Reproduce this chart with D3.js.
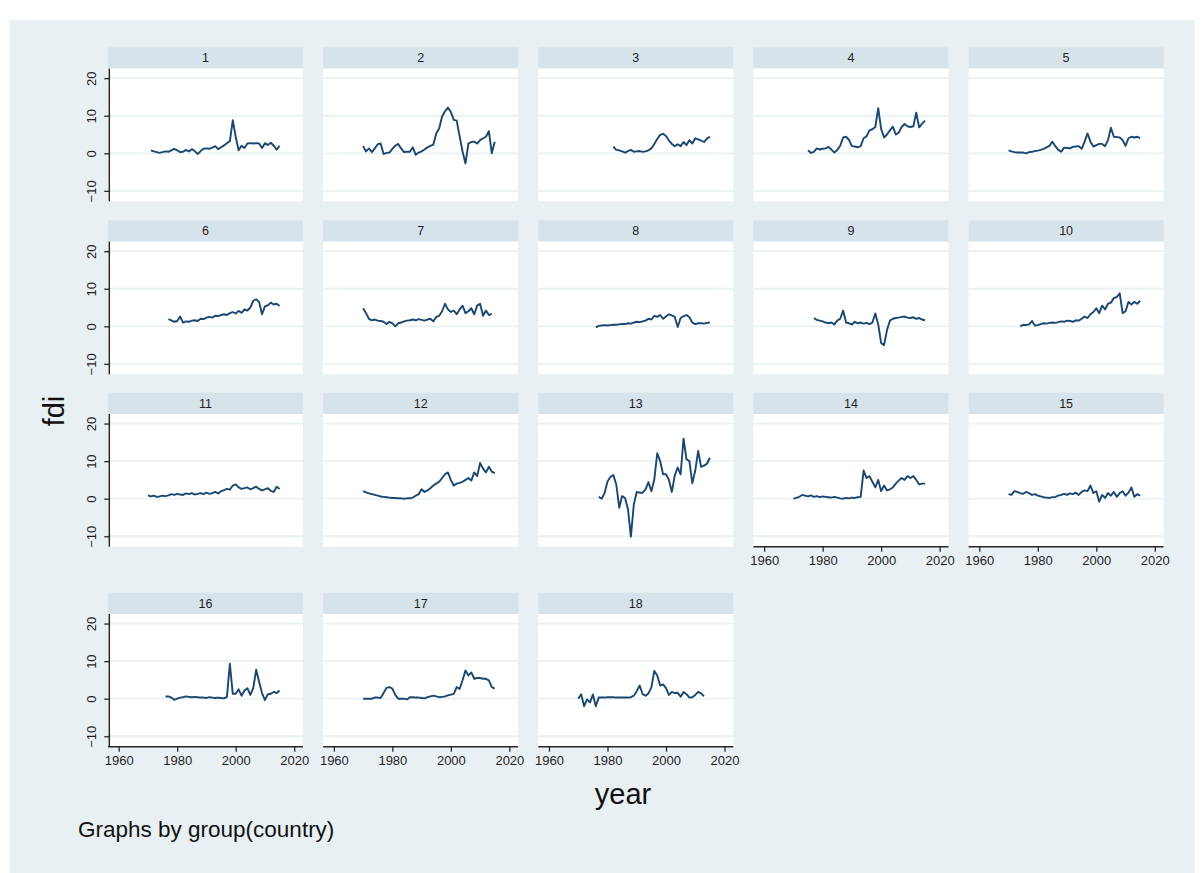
<!DOCTYPE html>
<html>
<head>
<meta charset="utf-8">
<script src="https://cdn.jsdelivr.net/npm/d3@7"></script>
<style>
  html, body { margin: 0; padding: 0; background: #ffffff; }
  svg { display: block; }
  text { font-family: "Liberation Sans", Arial, Helvetica, sans-serif; }
</style>
</head>
<body>
<svg id="chart" width="1203" height="873"></svg>
<script>
// FDI by country, one small panel per country (yearly values)
const countries = ["1","2","3","4","5","6","7","8","9","10","11","12","13","14","15","16","17","18"];
const startYears = [1971,1970,1982,1975,1970,1977,1970,1976,1977,1974,1970,1970,1977,1970,1970,1976,1970,1970];

const fdi1 = [0.8,0.5,0.3,0.1,0.3,0.5,0.4,0.8,1.2,0.8,0.3,0.4,0.9,0.5,1.1,0.6,-0.2,0.6,1.2,1.3,1.2,1.5,1.9,1.1,1.6,2.1,2.7,3.2,8.8,4.4,0.8,2.0,1.4,2.6,2.7,2.6,2.7,2.6,1.4,2.7,2.2,2.8,2.0,1.0,2.0];
const fdi2 = [1.9,0.5,1.3,0.3,1.3,2.4,2.6,-0.2,0.1,0.2,1.2,2.0,2.5,1.3,0.3,0.4,0.4,1.6,-0.4,0.2,0.5,1.0,1.6,2.0,2.3,5.3,6.6,9.8,11.2,12.2,11.0,8.9,8.7,4.5,0.5,-2.7,2.6,3.0,3.1,2.6,3.5,4.0,4.4,5.9,0.0,3.1];
const fdi3 = [1.8,0.9,0.8,0.5,0.2,0.6,0.9,0.4,0.5,0.6,0.4,0.5,0.8,1.3,2.5,3.8,4.9,5.2,4.6,3.4,2.5,1.9,2.4,1.9,3.0,2.2,3.5,2.6,4.0,3.7,3.4,3.0,3.9,4.4];
const fdi4 = [0.8,0.1,0.4,1.3,1.0,1.2,1.3,1.7,1.0,0.2,0.9,2.0,4.2,4.4,3.6,1.9,1.8,1.6,1.9,4.0,4.5,6.1,6.4,7.0,12.0,6.5,4.2,5.0,6.1,7.1,5.0,5.5,7.0,7.8,7.2,7.0,7.2,10.8,6.9,7.9,8.7];
const fdi5 = [0.8,0.5,0.3,0.2,0.2,0.2,0.0,0.3,0.4,0.6,0.7,0.9,1.2,1.6,2.0,3.1,1.9,0.9,0.4,1.5,1.4,1.3,1.7,1.8,1.9,1.2,3.1,5.3,3.1,1.8,2.2,2.5,2.5,1.9,3.5,6.8,4.4,4.3,4.2,3.5,2.0,4.0,4.4,4.2,4.4,4.0];
const fdi6 = [1.9,1.6,1.2,1.4,2.6,1.0,1.3,1.2,1.5,1.6,1.4,2.0,1.9,2.3,2.5,2.3,2.8,2.7,3.0,3.2,3.0,3.5,3.8,3.4,4.1,3.6,4.5,4.2,5.0,6.8,7.2,6.5,3.2,5.3,5.6,6.3,5.8,6.0,5.4];
const fdi7 = [4.8,3.5,2.0,1.6,1.8,1.5,1.4,1.2,0.6,1.2,0.8,0.0,0.8,1.0,1.3,1.5,1.6,1.8,1.6,1.9,1.7,1.5,1.8,2.0,1.3,2.5,2.8,4.0,6.0,4.5,3.8,4.2,3.2,4.5,5.5,3.5,4.0,4.8,3.2,5.5,6.0,2.8,4.2,3.0,3.3];
const fdi8 = [-0.3,0.1,0.2,0.3,0.2,0.3,0.4,0.4,0.5,0.6,0.6,0.8,0.7,1.0,1.2,1.1,1.3,1.5,2.0,1.8,2.8,2.5,3.0,2.0,2.6,3.2,2.9,2.5,-0.2,2.2,2.7,3.0,2.4,1.0,0.6,0.8,0.8,0.7,0.9,1.0];
const fdi9 = [2.2,1.7,1.5,1.3,1.0,0.8,1.0,0.5,1.5,2.0,4.2,1.0,0.8,0.5,1.2,0.8,1.0,0.7,0.9,0.6,1.0,3.4,0.5,-4.5,-5.0,-1.0,1.5,2.0,2.2,2.3,2.5,2.6,2.3,2.2,2.4,2.0,2.2,1.8,1.6];
const fdi10 = [0.0,0.4,0.3,0.5,1.4,0.2,0.3,0.6,0.8,0.7,0.9,1.0,0.9,1.1,1.3,1.2,1.5,1.4,1.2,1.6,1.5,2.0,2.6,2.2,3.2,3.8,4.8,3.5,5.5,4.5,6.0,6.3,7.5,7.8,8.8,3.5,4.0,6.5,5.8,6.5,6.0,6.8];
const fdi11 = [0.9,0.6,0.8,0.5,0.6,0.8,0.7,0.9,1.2,1.0,1.3,1.1,1.0,1.4,1.2,1.5,1.1,1.3,1.5,1.2,1.6,1.3,1.5,1.8,1.4,2.0,2.3,2.6,2.4,3.5,3.8,3.0,2.6,2.8,3.0,2.5,2.8,3.2,2.6,2.2,2.5,2.8,2.1,1.8,3.2,2.6];
const fdi12 = [2.0,1.7,1.4,1.2,1.0,0.8,0.6,0.5,0.4,0.3,0.2,0.2,0.1,0.1,0.0,0.1,0.1,0.3,0.8,1.2,2.5,1.8,2.2,2.8,3.5,4.0,4.5,5.5,6.5,7.0,5.0,3.5,4.0,4.2,4.5,5.0,5.5,4.8,7.0,6.0,9.5,8.0,7.0,8.5,7.2,6.8];
const fdi13 = [0.5,0.0,1.5,4.6,5.8,6.3,3.8,-2.4,0.7,0.2,-2.8,-10.1,-1.5,1.8,1.6,1.6,2.5,4.4,2.0,5.1,12.1,10.0,6.5,6.5,5.0,1.8,6.2,8.3,6.5,16.0,10.5,10.0,4.1,7.5,12.7,8.5,8.8,9.3,10.9];
const fdi14 = [0.0,0.2,0.5,1.0,0.8,0.6,0.9,0.5,0.7,0.4,0.6,0.5,0.4,0.3,0.5,0.3,0.1,0.0,0.2,0.1,0.3,0.2,0.4,0.5,7.5,5.5,6.0,4.5,3.0,5.0,2.0,3.5,2.2,2.5,3.0,4.0,4.8,5.5,5.0,6.0,5.5,6.0,5.0,3.8,4.0,4.0];
const fdi15 = [1.2,1.0,2.0,1.8,1.5,1.3,1.8,1.5,1.0,1.2,0.8,0.6,0.4,0.3,0.2,0.4,0.5,0.8,1.0,1.3,1.0,1.4,1.2,1.6,1.0,1.8,2.2,2.0,3.5,1.5,2.0,-0.8,1.0,0.2,1.5,0.8,1.8,0.5,1.5,2.0,0.8,1.6,3.0,0.5,1.2,0.8];
const fdi16 = [0.6,0.6,0.3,-0.3,0.0,0.3,0.4,0.6,0.5,0.4,0.5,0.4,0.3,0.3,0.2,0.4,0.3,0.2,0.3,0.2,0.1,0.5,9.3,1.3,1.3,2.5,0.8,2.2,2.8,1.0,2.8,7.7,4.5,1.5,-0.4,1.2,1.3,1.8,1.5,2.2];
const fdi17 = [0.0,0.0,0.0,0.0,0.3,0.3,0.2,1.5,2.9,3.1,2.7,1.0,0.0,0.0,0.0,-0.2,0.4,0.4,0.3,0.3,0.2,0.1,0.4,0.6,0.8,0.6,0.4,0.5,0.6,0.9,1.1,1.3,3.1,2.6,4.9,7.5,6.2,7.0,5.3,5.5,5.5,5.3,5.3,4.9,3.1,2.7];
const fdi18 = [0.0,1.2,-2.0,-0.2,-1.0,1.1,-2.0,0.3,0.3,0.3,0.4,0.4,0.4,0.3,0.3,0.3,0.3,0.3,0.4,0.8,2.0,3.5,1.2,0.8,1.4,3.0,7.4,6.2,3.5,3.8,2.8,1.0,1.8,1.5,1.6,0.5,1.8,1.2,0.3,0.4,1.0,1.8,1.4,0.6];

const fdiSeries = [fdi1,fdi2,fdi3,fdi4,fdi5,fdi6,fdi7,fdi8,fdi9,fdi10,fdi11,fdi12,fdi13,fdi14,fdi15,fdi16,fdi17,fdi18];
const yearTicks = [1960, 1980, 2000, 2020];
const fdiTicks = [-10, 0, 10, 20];

// layout of the small-multiple grid
const nCols = 5;
const colLeft0 = 108, colStep = 215.15, panelW = 195;
const rowTops = [47.3, 220.3, 392.7, 592.7];
const headerH = 21.3, panelH = 154, zeroOffset = 106;
const colors = {
  outer: "#e9f0f3",
  header: "#d7e3ea",
  grid: "#e9f1f3",
  line: "#1a476f",
  axis: "#262626",
  text: "#1e1e1e"
};

const svg = d3.select("#chart");

// graph region
svg.append("rect")
  .attr("x", 10).attr("y", 20).attr("width", 1185).attr("height", 853)
  .attr("fill", colors.outer);

const lineGen = d3.line()
  .x(d => d.x).y(d => d.y);

countries.forEach((name, i) => {
  const col = i % nCols, row = Math.floor(i / nCols);
  const left = colLeft0 + col * colStep;
  const top = rowTops[row];
  const zero = top + zeroOffset;
  const plotTop = top + headerH, plotBottom = top + panelH;

  const x = d3.scaleLinear().domain([1960, 2020]).range([left + 10.7, left + 186.2]);
  const y = d3.scaleLinear().domain([-10, 20]).range([zero + 37.57, zero - 75.14]);

  const g = svg.append("g").attr("class", "panel");

  // subtitle bar
  g.append("rect")
    .attr("x", left).attr("y", top).attr("width", panelW).attr("height", headerH)
    .attr("fill", colors.header);
  g.append("text")
    .attr("x", left + panelW / 2).attr("y", top + headerH / 2 + 4.4)
    .attr("text-anchor", "middle")
    .attr("font-size", 12.5).attr("fill", colors.text)
    .text(name);

  // plot region
  g.append("rect")
    .attr("x", left).attr("y", plotTop).attr("width", panelW).attr("height", plotBottom - plotTop)
    .attr("fill", "#ffffff");

  // horizontal grid
  g.selectAll("line.grid").data(fdiTicks).join("line")
    .attr("class", "grid")
    .attr("x1", left).attr("x2", left + panelW)
    .attr("y1", d => y(d)).attr("y2", d => y(d))
    .attr("stroke", colors.grid).attr("stroke-width", 1.8);

  // series line
  const vals = fdiSeries[i];
  const pts = vals.map((v, k) => ({ x: x(startYears[i] + k), y: y(v) }));
  g.append("path")
    .attr("d", lineGen(pts))
    .attr("fill", "none")
    .attr("stroke", colors.line)
    .attr("stroke-width", 1.9)
    .attr("stroke-linejoin", "round");

  // y axis on the first column
  if (col === 0) {
    const ya = g.append("g")
      .attr("transform", `translate(${left + 1.3},0)`)
      .call(d3.axisLeft(y).tickValues(fdiTicks).tickSize(5).tickSizeOuter(0));
    ya.select(".domain").attr("d", `M0,${plotTop}V${plotBottom}`)
      .attr("stroke", colors.axis).attr("stroke-width", 1.5);
    ya.selectAll(".tick line").attr("stroke", colors.axis).attr("stroke-width", 1.3);
    ya.selectAll(".tick text")
      .attr("transform", "rotate(-90)")
      .attr("x", 0).attr("y", -13.5).attr("dy", 0)
      .attr("text-anchor", "middle")
      .attr("font-size", 13).attr("fill", colors.text)
      .attr("font-family", "Liberation Sans, Arial, sans-serif");
  }

  // x axis on panels with nothing below them
  const hasBelow = i + nCols < countries.length;
  if (!hasBelow) {
    const xa = g.append("g")
      .attr("transform", `translate(0,${plotBottom})`)
      .call(d3.axisBottom(x).tickValues(yearTicks).tickFormat(d3.format("d")).tickSize(5).tickSizeOuter(0));
    xa.select(".domain").attr("d", `M${left},0H${left + panelW}`)
      .attr("stroke", colors.axis).attr("stroke-width", 1.5);
    xa.selectAll(".tick line").attr("stroke", colors.axis).attr("stroke-width", 1.3);
    xa.selectAll(".tick text")
      .attr("y", 9.5).attr("dy", "0.71em")
      .attr("font-size", 13).attr("fill", colors.text)
      .attr("font-family", "Liberation Sans, Arial, sans-serif");
  }
});

// axis titles and note
svg.append("text")
  .attr("transform", "translate(64,411) rotate(-90)")
  .attr("text-anchor", "middle")
  .attr("font-size", 29).attr("fill", "#111")
  .text("fdi");

svg.append("text")
  .attr("x", 623).attr("y", 804)
  .attr("text-anchor", "middle")
  .attr("font-size", 29).attr("fill", "#111")
  .text("year");

svg.append("text")
  .attr("x", 78).attr("y", 837)
  .attr("font-size", 22.5).attr("fill", "#111")
  .text("Graphs by group(country)");
</script>
</body>
</html>
